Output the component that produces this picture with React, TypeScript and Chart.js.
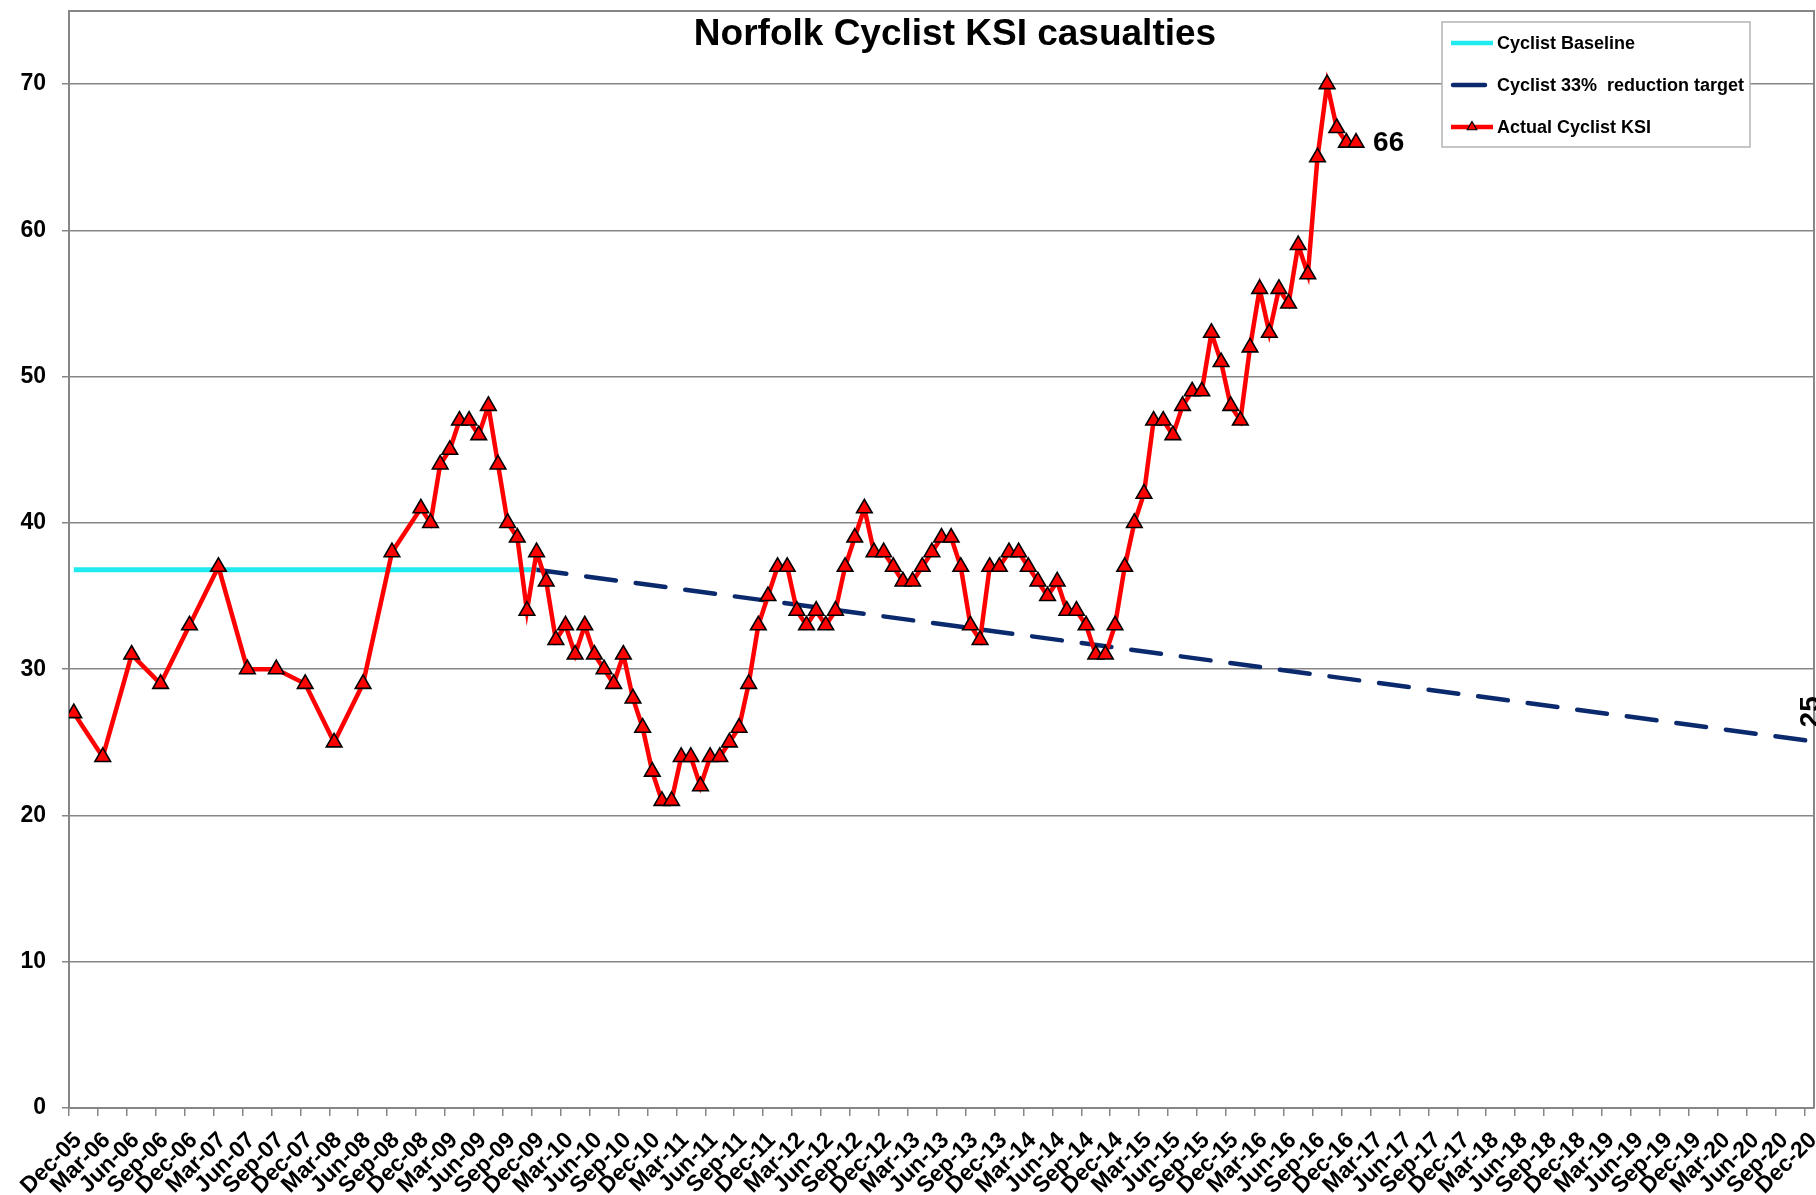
import React, { useEffect, useRef } from "react";
import { Chart, registerables } from "chart.js";

Chart.register(...registerables);

// ---------- data ----------
const quarterTickLabels: string[] = [
  "Dec-05", "Mar-06", "Jun-06", "Sep-06", "Dec-06", "Mar-07", "Jun-07", "Sep-07", "Dec-07",
  "Mar-08", "Jun-08", "Sep-08", "Dec-08", "Mar-09", "Jun-09", "Sep-09", "Dec-09",
  "Mar-10", "Jun-10", "Sep-10", "Dec-10", "Mar-11", "Jun-11", "Sep-11", "Dec-11",
  "Mar-12", "Jun-12", "Sep-12", "Dec-12", "Mar-13", "Jun-13", "Sep-13", "Dec-13",
  "Mar-14", "Jun-14", "Sep-14", "Dec-14", "Mar-15", "Jun-15", "Sep-15", "Dec-15",
  "Mar-16", "Jun-16", "Sep-16", "Dec-16", "Mar-17", "Jun-17", "Sep-17", "Dec-17",
  "Mar-18", "Jun-18", "Sep-18", "Dec-18", "Mar-19", "Jun-19", "Sep-19", "Dec-19",
  "Mar-20", "Jun-20", "Sep-20", "Dec-20",
];

const actualMonths: string[] = [
  "Dec-05", "Mar-06", "Jun-06", "Sep-06", "Dec-06", "Mar-07", "Jun-07", "Sep-07", "Dec-07",
  "Mar-08", "Jun-08", "Sep-08", "Dec-08",
  "Jan-09", "Feb-09", "Mar-09", "Apr-09", "May-09", "Jun-09", "Jul-09", "Aug-09", "Sep-09", "Oct-09", "Nov-09", "Dec-09",
  "Jan-10", "Feb-10", "Mar-10", "Apr-10", "May-10", "Jun-10", "Jul-10", "Aug-10", "Sep-10", "Oct-10", "Nov-10", "Dec-10",
  "Jan-11", "Feb-11", "Mar-11", "Apr-11", "May-11", "Jun-11", "Jul-11", "Aug-11", "Sep-11", "Oct-11", "Nov-11", "Dec-11",
  "Jan-12", "Feb-12", "Mar-12", "Apr-12", "May-12", "Jun-12", "Jul-12", "Aug-12", "Sep-12", "Oct-12", "Nov-12", "Dec-12",
  "Jan-13", "Feb-13", "Mar-13", "Apr-13", "May-13", "Jun-13", "Jul-13", "Aug-13", "Sep-13", "Oct-13", "Nov-13", "Dec-13",
  "Jan-14", "Feb-14", "Mar-14", "Apr-14", "May-14", "Jun-14", "Jul-14", "Aug-14", "Sep-14", "Oct-14", "Nov-14", "Dec-14",
  "Jan-15", "Feb-15", "Mar-15", "Apr-15", "May-15", "Jun-15", "Jul-15", "Aug-15", "Sep-15", "Oct-15", "Nov-15", "Dec-15",
  "Jan-16", "Feb-16", "Mar-16", "Apr-16", "May-16", "Jun-16", "Jul-16", "Aug-16", "Sep-16", "Oct-16", "Nov-16", "Dec-16",
  "Jan-17",
];

const actualValues: number[] = [
  27, 24, 31, 29, 33, 37, 30, 30, 29,
  25, 29, 38, 41,
  40, 44, 45, 47, 47, 46, 48, 44, 40, 39, 34, 38,
  36, 32, 33, 31, 33, 31, 30, 29, 31, 28, 26, 23,
  21, 21, 24, 24, 22, 24, 24, 25, 26, 29, 33, 35,
  37, 37, 34, 33, 34, 33, 34, 37, 39, 41, 38, 38,
  37, 36, 36, 37, 38, 39, 39, 37, 33, 32, 37, 37,
  38, 38, 37, 36, 35, 36, 34, 34, 33, 31, 31, 33,
  37, 40, 42, 47, 47, 46, 48, 49, 49, 53, 51, 48,
  47, 52, 56, 53, 56, 55, 59, 57, 65, 70, 67, 66,
  66,
];

const baselineMonths: string[] = ["Dec-05", "Dec-09"];
const baselineValues: number[] = [36.8, 36.8];

const targetMonths: string[] = ["Dec-09", "Dec-20"];
const targetValues: number[] = [36.8, 25.1];

const seriesNames: string[] = ["Cyclist Baseline", "Cyclist 33%  reduction target", "Actual Cyclist KSI"];
const chartTitle = "Norfolk Cyclist KSI casualties";
const actualEndLabel = "66";
const targetEndLabel = "25";
const yTickValues: number[] = [0, 10, 20, 30, 40, 50, 60, 70];

// ---------- styling ----------
const FONT = '"Liberation Sans", Arial, Helvetica, sans-serif';
const GRID = "#868686";
const RED = "#ff0000";
const CYAN = "#1eeaf0";
const NAVY = "#0b2a6e";
const W = 1816;
const H = 1195;

const MONTH_NAMES = ["Jan", "Feb", "Mar", "Apr", "May", "Jun", "Jul", "Aug", "Sep", "Oct", "Nov", "Dec"];
// month position on the axis: Dec-05 slot = 0..1, points in the middle of the month slot
function monthPos(label: string): number {
  const [m, y] = label.split("-");
  const year = 2000 + parseInt(y, 10);
  return (year - 2005) * 12 + MONTH_NAMES.indexOf(m) - 11 + 0.5;
}

const toPoints = (months: string[], values: number[]) =>
  months.map((m, i) => ({ x: monthPos(m), y: values[i] }));

const decorPlugin = {
  id: "decor",
  beforeDatasetsDraw(chart: any) {
    const { ctx, chartArea: a } = chart;
    ctx.save();
    ctx.strokeStyle = GRID;
    ctx.lineWidth = 2;
    ctx.beginPath();
    ctx.moveTo(a.left, a.top);
    ctx.lineTo(a.right, a.top);
    ctx.lineTo(a.right, a.bottom);
    ctx.stroke();
    ctx.restore();
  },
  afterDraw(chart: any) {
    const { ctx } = chart;
    ctx.save();
    // title
    ctx.fillStyle = "#000";
    ctx.font = `bold 37px ${FONT}`;
    ctx.textAlign = "center";
    ctx.textBaseline = "alphabetic";
    ctx.fillText(chartTitle, 955, 45);

    // legend box
    const bx = 1442;
    const by = 22;
    const bw = 308;
    const bh = 125;
    ctx.fillStyle = "#ffffff";
    ctx.fillRect(bx, by, bw, bh);
    ctx.strokeStyle = "#b4b4b4";
    ctx.lineWidth = 1.5;
    ctx.strokeRect(bx, by, bw, bh);

    const rows = [by + 21, by + 63, by + 105];
    const lx0 = bx + 9;
    const lx1 = bx + 51;
    ctx.lineWidth = 4.5;
    ctx.lineCap = "butt";
    // baseline
    ctx.strokeStyle = CYAN;
    ctx.beginPath();
    ctx.moveTo(lx0, rows[0]);
    ctx.lineTo(lx1, rows[0]);
    ctx.stroke();
    // target
    ctx.strokeStyle = NAVY;
    ctx.lineCap = "round";
    ctx.beginPath();
    ctx.moveTo(lx0 + 2, rows[1]);
    ctx.lineTo(lx1 - 8, rows[1]);
    ctx.stroke();
    // actual
    ctx.lineCap = "butt";
    ctx.strokeStyle = RED;
    ctx.beginPath();
    ctx.moveTo(lx0, rows[2]);
    ctx.lineTo(lx1, rows[2]);
    ctx.stroke();
    const cx = (lx0 + lx1) / 2;
    const r = 5.5;
    ctx.beginPath();
    ctx.moveTo(cx, rows[2] - r);
    ctx.lineTo(cx + r * 0.866, rows[2] + r / 2);
    ctx.lineTo(cx - r * 0.866, rows[2] + r / 2);
    ctx.closePath();
    ctx.fillStyle = RED;
    ctx.fill();
    ctx.strokeStyle = "#000";
    ctx.lineWidth = 1.2;
    ctx.stroke();

    ctx.fillStyle = "#000";
    ctx.font = `bold 18px ${FONT}`;
    ctx.textAlign = "left";
    ctx.textBaseline = "middle";
    seriesNames.forEach((n, i) => ctx.fillText(n, bx + 55, rows[i] + 1));

    // end labels
    const actualMeta = chart.getDatasetMeta(0);
    const lastA = actualMeta.data[actualMeta.data.length - 1];
    ctx.font = `bold 28px ${FONT}`;
    ctx.textAlign = "left";
    ctx.textBaseline = "middle";
    ctx.fillText(actualEndLabel, lastA.x + 17, lastA.y + 1);

    const targetMeta = chart.getDatasetMeta(2);
    const lastT = targetMeta.data[targetMeta.data.length - 1];
    ctx.translate(lastT.x + 10, lastT.y - 29);
    ctx.rotate(-Math.PI / 2);
    ctx.textAlign = "center";
    ctx.textBaseline = "alphabetic";
    ctx.fillText(targetEndLabel, 0, 0);
    ctx.restore();
  },
};

export default function App() {
  const ref = useRef<HTMLCanvasElement | null>(null);

  useEffect(() => {
    if (!ref.current) return;
    const chart = new Chart(ref.current, {
      type: "line",
      data: {
        datasets: [
          {
            label: seriesNames[2],
            data: toPoints(actualMonths, actualValues),
            borderColor: RED,
            borderWidth: 4.5,
            backgroundColor: RED,
            pointStyle: "triangle",
            pointRadius: 9,
            pointBackgroundColor: RED,
            pointBorderColor: "#000",
            pointBorderWidth: 1.6,
            tension: 0,
          },
          {
            label: seriesNames[0],
            data: toPoints(baselineMonths, baselineValues),
            borderColor: CYAN,
            borderWidth: 5,
            pointRadius: 0,
            tension: 0,
          },
          {
            label: seriesNames[1],
            data: toPoints(targetMonths, targetValues),
            borderColor: NAVY,
            borderWidth: 4.5,
            borderDash: [30, 20],
            borderCapStyle: "round",
            pointRadius: 0,
            tension: 0,
          },
        ],
      },
      options: {
        animation: false,
        responsive: false,
        maintainAspectRatio: false,
        layout: { autoPadding: false, padding: { top: 11, right: 2, left: 0, bottom: 0 } },
        plugins: {
          legend: { display: false },
          title: { display: false },
          tooltip: { enabled: false },
        },
        scales: {
          x: {
            type: "linear",
            min: 0,
            max: 181,
            afterBuildTicks: (scale: any) => {
              scale.ticks = quarterTickLabels.map((_, i) => ({ value: i * 3 }));
            },
            afterFit: (scale: any) => {
              scale.height = 87;
              scale.paddingLeft = 0;
              scale.paddingRight = 0;
              scale.paddingTop = 0;
              scale.paddingBottom = 0;
            },
            grid: {
              drawOnChartArea: false,
              drawTicks: true,
              tickLength: 8,
              color: GRID,
              lineWidth: 1.5,
            },
            border: { display: true, color: GRID, width: 2 },
            ticks: {
              autoSkip: false,
              maxRotation: 45,
              minRotation: 45,
              padding: 11,
              labelOffset: 9,
              color: "#000",
              font: { family: FONT, size: 23, weight: "bold" },
              callback: (v: any) => quarterTickLabels[Math.round(Number(v) / 3)] ?? "",
            },
          },
          y: {
            type: "linear",
            min: 0,
            max: 75,
            afterBuildTicks: (scale: any) => {
              scale.ticks = yTickValues.map((v) => ({ value: v }));
            },
            afterFit: (scale: any) => {
              scale.width = 69;
              scale.paddingTop = 0;
              scale.paddingBottom = 0;
              scale.paddingLeft = 0;
              scale.paddingRight = 0;
            },
            grid: {
              color: GRID,
              lineWidth: 1.5,
              tickLength: 7,
            },
            border: { display: true, color: GRID, width: 2 },
            ticks: {
              padding: 16,
              color: "#000",
              font: { family: FONT, size: 23, weight: "bold" },
            },
          },
        },
      },
      plugins: [decorPlugin],
    } as any);
    return () => chart.destroy();
  }, []);

  return (
    <div style={{ position: "fixed", left: 0, top: 0, width: W, height: H, background: "#fff" }}>
      <canvas ref={ref} width={W} height={H} style={{ display: "block", width: W, height: H }} />
    </div>
  );
}
